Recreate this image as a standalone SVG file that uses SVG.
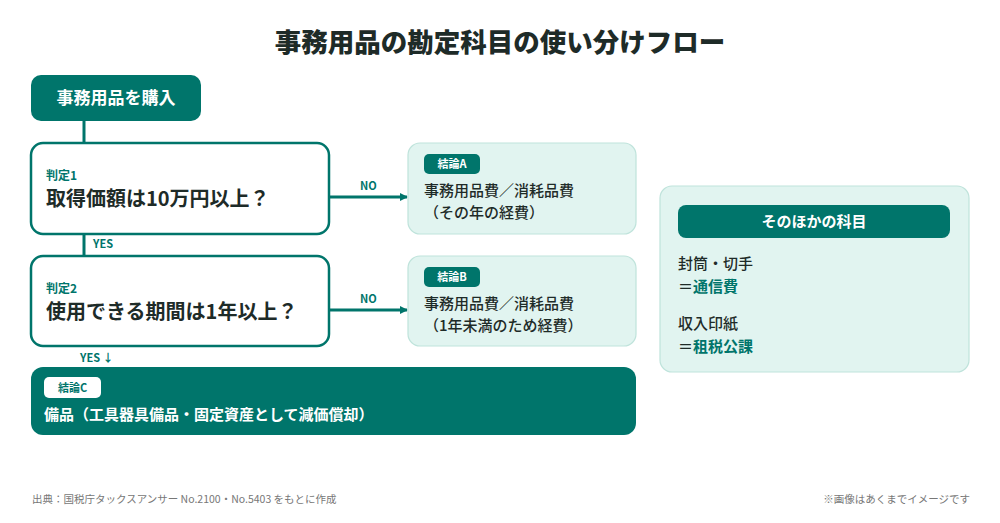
<svg xmlns="http://www.w3.org/2000/svg" width="1000" height="523" viewBox="0 0 1000 523">
<style>
text{font-family:"Noto Sans CJK JP","Noto Sans",sans-serif}
.title{font-size:26.5px;font-weight:900;fill:#1e2b28}
.teal{fill:#00756b}
.dec{fill:#fff;stroke:#00756b;stroke-width:2.5}
.light{fill:#e1f4f0;stroke:#bfe3db;stroke-width:1.2}
.lbl{font-size:11px;font-weight:700;fill:#00756b}
.small{font-size:12px;font-weight:700;fill:#00756b}
.q{font-size:20px;font-weight:700;fill:#1e2b28}
.body{font-size:15px;font-weight:500;fill:#1e2b28}
.badge{font-size:11px;font-weight:700}
.conn{stroke:#00756b;stroke-width:3;fill:none}
.foot{font-size:10.5px;fill:#777}
</style>
<defs>
<marker id="ah" markerWidth="8" markerHeight="8" refX="7" refY="4" orient="auto" markerUnits="userSpaceOnUse"><path d="M0,0 L8,4 L0,8 Z" fill="#00756b"/></marker>
</defs>
<rect width="1000" height="523" fill="#fff"/>
<text class="title" x="500" y="52" text-anchor="middle">事務用品の勘定科目の使い分けフロー</text>

<g id="connectors">
<line class="conn" x1="84" y1="121" x2="84" y2="143"/>
<line class="conn" x1="84" y1="234" x2="84" y2="256"/>
<text class="lbl" x="93" y="248">YES</text>
<line class="conn" x1="329" y1="197" x2="407" y2="197" marker-end="url(#ah)"/>
<text class="lbl" x="360" y="190">NO</text>
<line class="conn" x1="329" y1="310" x2="407" y2="310" marker-end="url(#ah)"/>
<text class="lbl" x="360" y="303">NO</text>
<text class="lbl" x="80" y="362">YES ↓</text>
</g>

<g id="start">
<rect class="teal" x="31" y="75" width="170" height="46" rx="10"/>
<text x="116" y="104" text-anchor="middle" font-size="17" font-weight="700" fill="#fff">事務用品を購入</text>
</g>

<g id="q1">
<rect class="dec" x="31" y="143" width="298" height="91" rx="12"/>
<text class="small" x="46" y="180">判定1</text>
<text class="q" x="46" y="206">取得価額は10万円以上？</text>
</g>

<g id="q2">
<rect class="dec" x="31" y="256" width="298" height="90" rx="12"/>
<text class="small" x="46" y="293">判定2</text>
<text class="q" x="46" y="319">使用できる期間は1年以上？</text>
</g>

<g id="resA">
<rect class="light" x="408" y="143" width="228" height="91" rx="12"/>
<rect class="teal" x="424" y="154" width="56" height="20" rx="5"/>
<text class="badge" x="452" y="168" text-anchor="middle" fill="#fff">結論A</text>
<text class="body" x="424" y="196">事務用品費／消耗品費</text>
<text class="body" x="424" y="218">（その年の経費）</text>
</g>

<g id="resB">
<rect class="light" x="408" y="256" width="228" height="90" rx="12"/>
<rect class="teal" x="424" y="267" width="56" height="20" rx="5"/>
<text class="badge" x="452" y="281" text-anchor="middle" fill="#fff">結論B</text>
<text class="body" x="424" y="309">事務用品費／消耗品費</text>
<text class="body" x="424" y="331">（1年未満のため経費）</text>
</g>

<g id="resC">
<rect class="teal" x="31" y="367" width="605" height="68" rx="12"/>
<rect x="44" y="377" width="57" height="21" rx="5" fill="#fff"/>
<text class="badge" x="72.5" y="392" text-anchor="middle" fill="#00756b">結論C</text>
<text x="44" y="420" font-size="15" font-weight="700" fill="#fff">備品（工具器具備品・固定資産として減価償却）</text>
</g>

<g id="other">
<rect class="light" x="660" y="186" width="309" height="186" rx="12"/>
<rect class="teal" x="678" y="205" width="272" height="33" rx="8"/>
<text x="814" y="227" text-anchor="middle" font-size="15" font-weight="700" fill="#fff">そのほかの科目</text>
<text class="body" x="678" y="269">封筒・切手</text>
<text class="body" x="678" y="292">＝<tspan font-weight="700" fill="#00756b">通信費</tspan></text>
<text class="body" x="678" y="329">収入印紙</text>
<text class="body" x="678" y="352">＝<tspan font-weight="700" fill="#00756b">租税公課</tspan></text>
</g>

<text class="foot" x="32" y="503">出典：国税庁タックスアンサー No.2100・No.5403 をもとに作成</text>
<text class="foot" x="970" y="503" text-anchor="end" fill="#999">※画像はあくまでイメージです</text>
</svg>
